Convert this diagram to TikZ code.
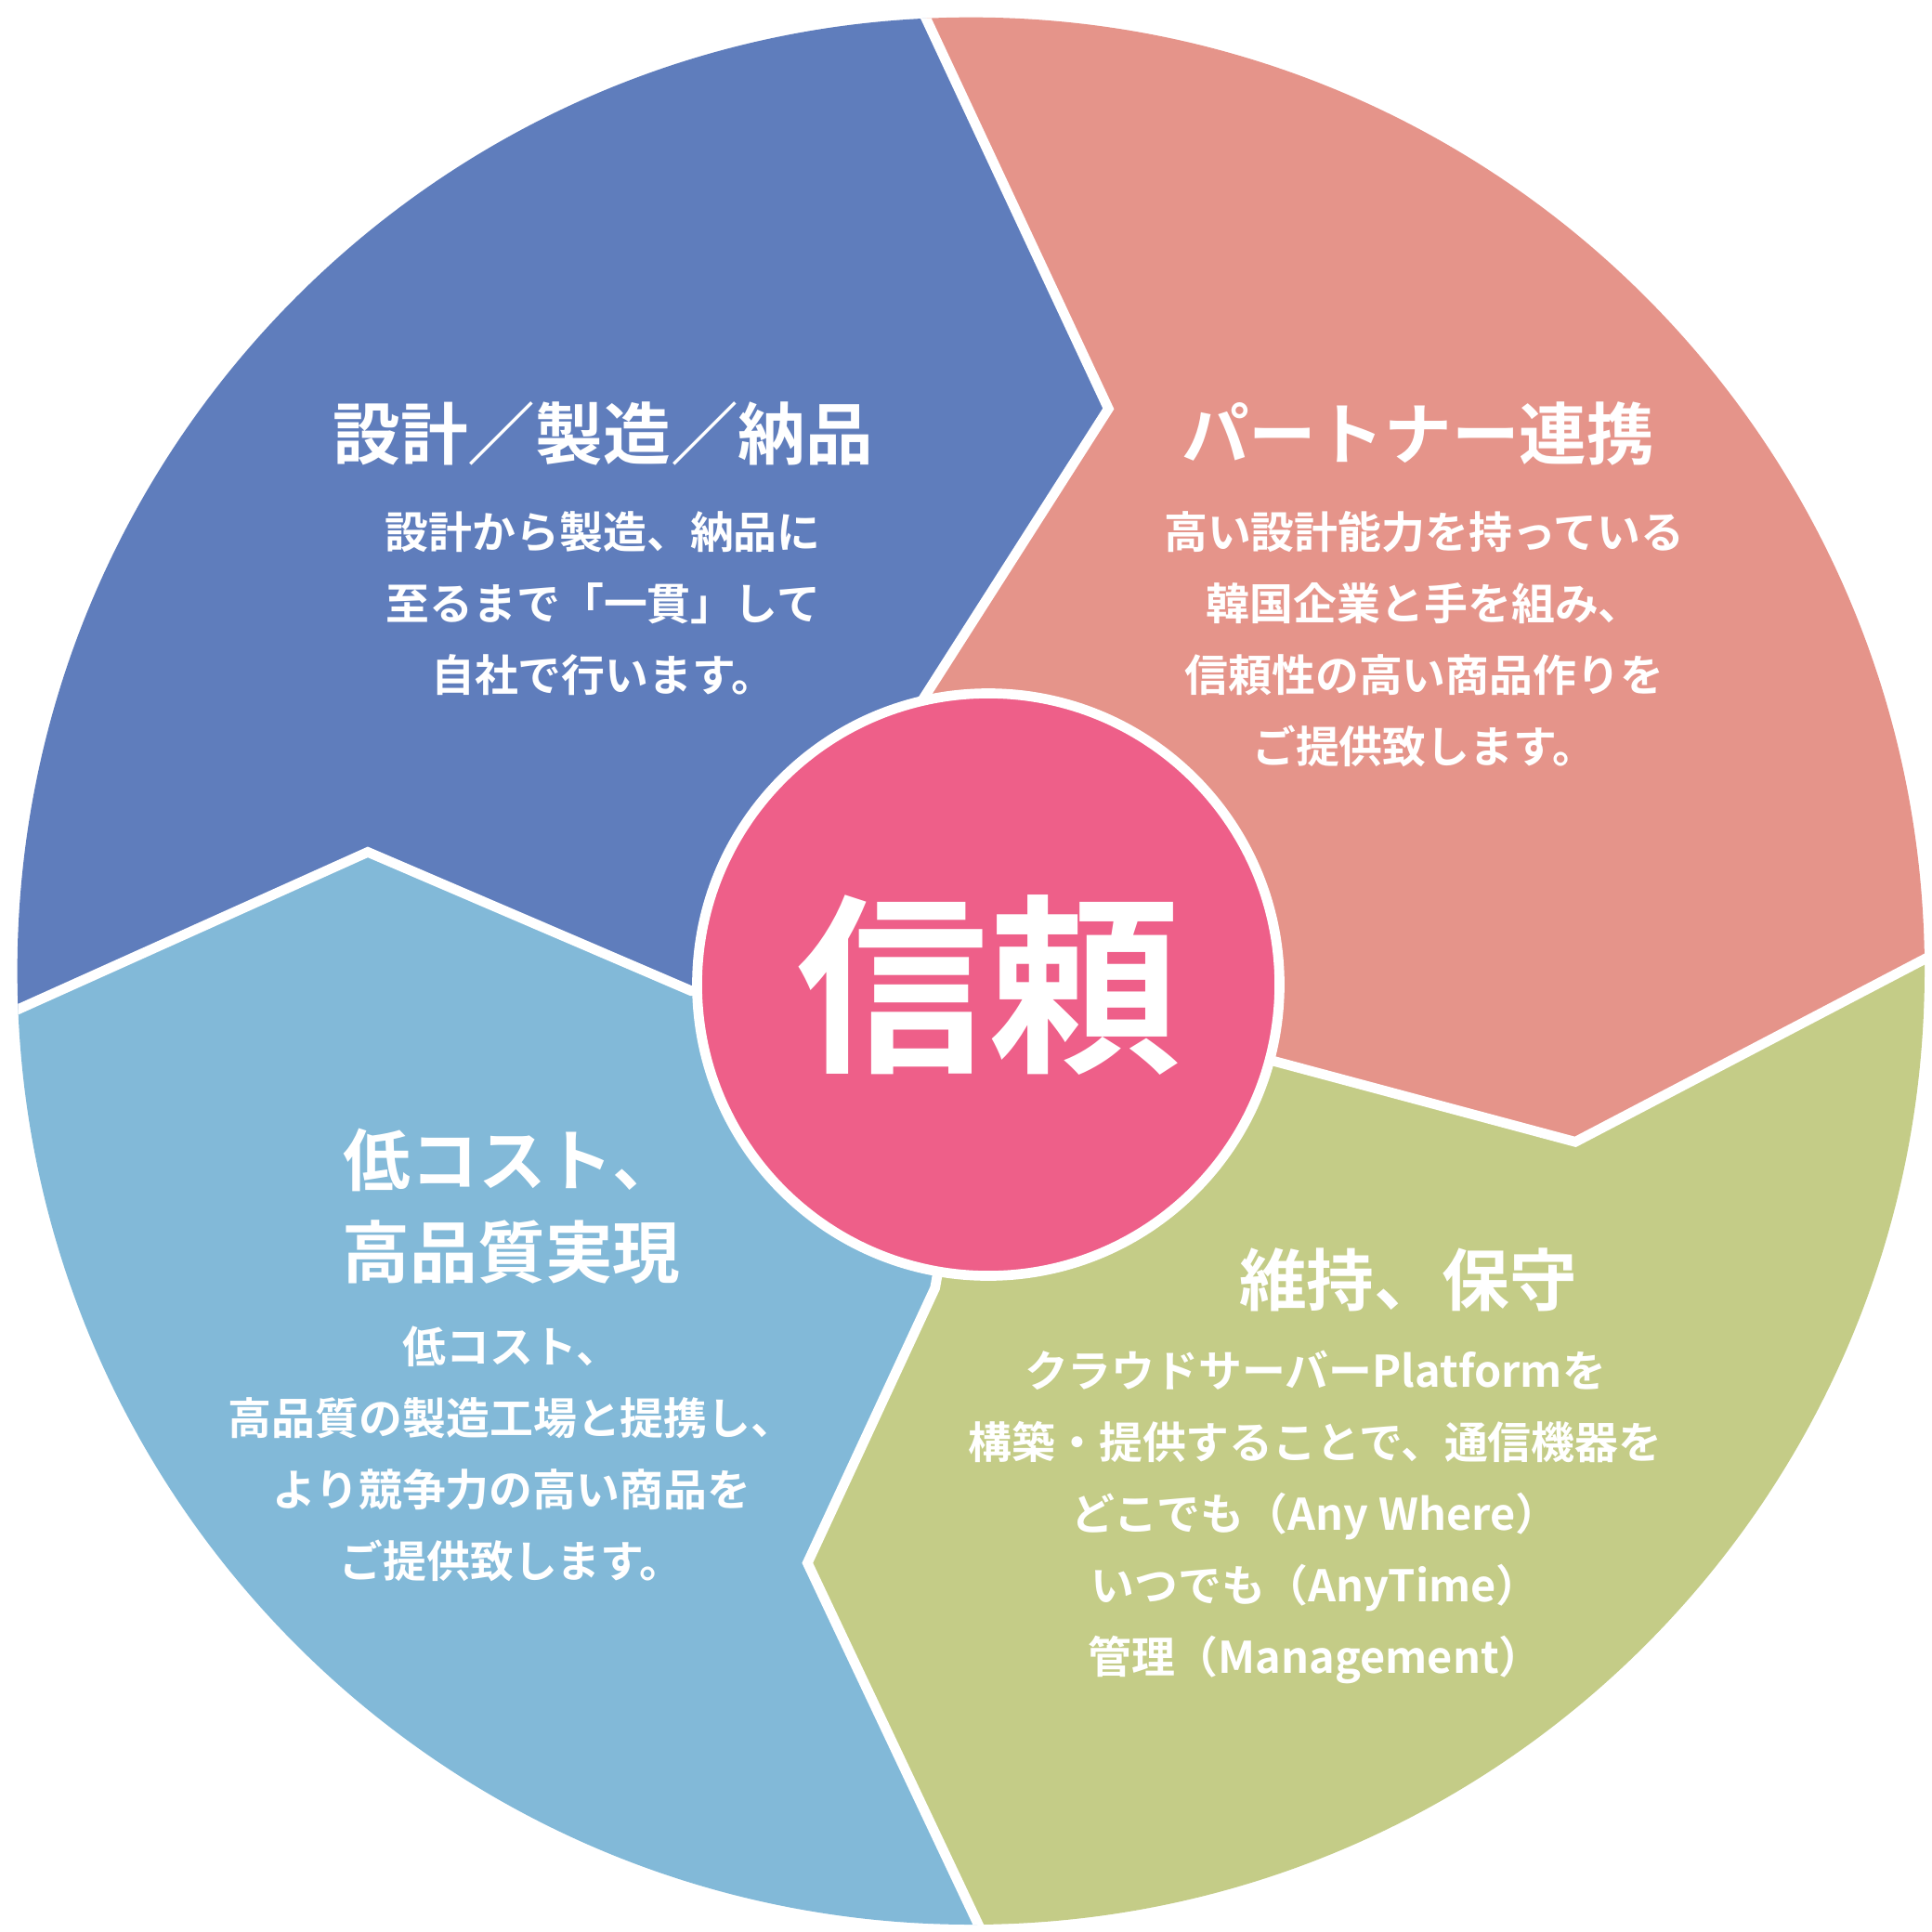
\documentclass[tikz,border=0pt]{standalone}
\usepackage{fontspec}
\newfontfamily\jp{Noto Sans CJK JP Bold}
\definecolor{cblue}{HTML}{5F7DBC}
\definecolor{cpink}{HTML}{E5948A}
\definecolor{cgreen}{HTML}{C4CC87}
\definecolor{clblue}{HTML}{82B9D8}
\definecolor{ccenter}{HTML}{EE5F89}
\begin{document}
\begin{tikzpicture}[x=0.01cm,y=-0.01cm,
  ttl/.style={text=white,font=\jp\fontsize{15.5pt}{21pt}\selectfont,align=center},
  bdy/.style={text=white,font=\jp\fontsize{10pt}{16.4pt}\selectfont,align=center},
  sep/.style={white,line width=0.08cm,line join=miter}]
\useasboundingbox (0,0) rectangle (1560,1560);
\begin{scope}
\clip (784,784) circle [radius=770];
\fill[cpink] (701,-85)--(1700,-85)--(1700,698)--(1272,922)--(798,795)--(745,565)--(895,330)--cycle;
\fill[cgreen] (1700,698)--(1272,922)--(798,795)--(755,1040)--(652,1262)--(840,1660)--(1700,1660)--cycle;
\fill[clblue] (840,1660)--(652,1262)--(755,1040)--(798,795)--(558,800)--(297,688)--(-130,880)--(-130,1660)--cycle;
\fill[cblue] (-130,880)--(297,688)--(558,800)--(798,795)--(745,565)--(895,330)--(701,-85)--(-130,-85)--cycle;
\draw[sep] (701,-85)--(895,330)--(745,565)--(798,795);
\draw[sep] (1700,698)--(1272,922)--(798,795);
\draw[sep] (840,1660)--(652,1262)--(755,1040)--(798,795);
\draw[sep] (-130,880)--(297,688)--(558,800)--(798,795);
\end{scope}
\node[circle,fill=ccenter,draw=white,line width=0.08cm,minimum size=4.7cm,inner sep=0pt,text=white,font=\jp\fontsize{44pt}{50pt}\selectfont] (c) at (798,795) {信頼};
\node[ttl] (t1) at (487,350) {設計／製造／納品};
\node[bdy] (b1) at (487,487) {設計から製造、納品に\\至るまで「一貫」して\\自社で行います。};
\node[ttl] (t2) at (1145,350) {パートナー連携};
\node[bdy] (b2) at (1150,516) {高い設計能力を持っている\\韓国企業と手を組み、\\信頼性の高い商品作りを\\ご提供致します。};
\node[ttl] (t3) at (413,974) {低コスト、\\高品質実現};
\node[bdy] (b3) at (413,1174) {低コスト、\\高品質の製造工場と提携し、\\より競争力の高い商品を\\ご提供致します。};
\node[ttl] (t4) at (1137,1033) {維持、保守};
\node[bdy] (b4) at (1062,1225) {クラウドサーバーPlatformを\\構築・提供することで、通信機器を\\どこでも（Any Where）\\いつでも（AnyTime）\\管理（Management）};
\end{tikzpicture}
\end{document}
